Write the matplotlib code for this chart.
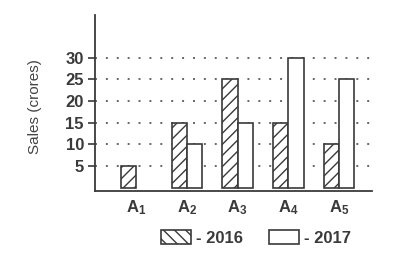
import matplotlib
matplotlib.use("Agg")
import matplotlib.pyplot as plt
from matplotlib.patches import Patch
import numpy as np

categories = ["$\\mathbf{A_1}$", "$\\mathbf{A_2}$", "$\\mathbf{A_3}$", "$\\mathbf{A_4}$", "$\\mathbf{A_5}$"]
sales_2016 = [5, 15, 25, 15, 10]
sales_2017 = [0, 10, 15, 30, 25]
yticks = [5, 10, 15, 20, 25, 30]
series_labels = ["- 2016", "- 2017"]

plt.rcParams['font.family'] = ['Liberation Sans', 'DejaVu Sans']
plt.rcParams['hatch.linewidth'] = 1.0
plt.rcParams['mathtext.fontset'] = 'custom'
plt.rcParams['mathtext.bf'] = 'Liberation Sans:bold'
plt.rcParams['mathtext.rm'] = 'Liberation Sans'

ink = '#3a3a3a'
plt.rcParams['hatch.color'] = ink

fig = plt.figure(figsize=(4.17, 2.64), dpi=100)
ax = fig.add_axes([95/417, 1-191/264, (372-95)/417, (191-15)/264])

x = np.arange(len(categories))
w = 0.3
ax.bar(x - w/2, sales_2016, width=w, facecolor='white', edgecolor=ink,
       hatch='///', linewidth=1.2, zorder=3)
bars17 = ax.bar(x + w/2, sales_2017, width=w, facecolor='white', edgecolor=ink,
                linewidth=1.2, zorder=3)
for b, v in zip(bars17, sales_2017):
    if v == 0:
        b.set_visible(False)

ax.set_xlim(-0.81, 4.65)
ax.set_ylim(-0.75, 39.8)

for t in yticks:
    ax.axhline(t, color='#666666', linestyle=(0, (1, 4.6)), linewidth=1.4, zorder=1)

ax.set_yticks(yticks)
ax.set_yticklabels([str(t) for t in yticks], fontsize=12, fontweight='bold', color=ink)
ax.set_xticks(x)
ax.set_xticklabels(categories, fontsize=12, color=ink)
ax.tick_params(axis='y', length=5, width=1.2, color=ink, pad=3)
ax.tick_params(axis='x', length=0, pad=5)

for s in ['top', 'right']:
    ax.spines[s].set_visible(False)
for s in ['left', 'bottom']:
    ax.spines[s].set_color(ink)
    ax.spines[s].set_linewidth(1.3)

fig.text(35/417, 1-107/264, "Sales (crores)", rotation=90, ha='center', va='center',
         fontsize=11, color='#444444')

handles = [Patch(facecolor='white', edgecolor=ink, hatch='\\\\\\', linewidth=1.2),
           Patch(facecolor='white', edgecolor=ink, linewidth=1.2)]
leg = fig.legend(handles, series_labels, loc='center', bbox_to_anchor=(256/417, 1-238/264),
                 ncol=2, frameon=False, handlelength=1.8, handleheight=0.95,
                 handletextpad=0.3, columnspacing=1.5,
                 prop={'weight': 'bold', 'size': 12})
for t in leg.get_texts():
    t.set_color(ink)

fig.savefig("out.png", dpi=100)
